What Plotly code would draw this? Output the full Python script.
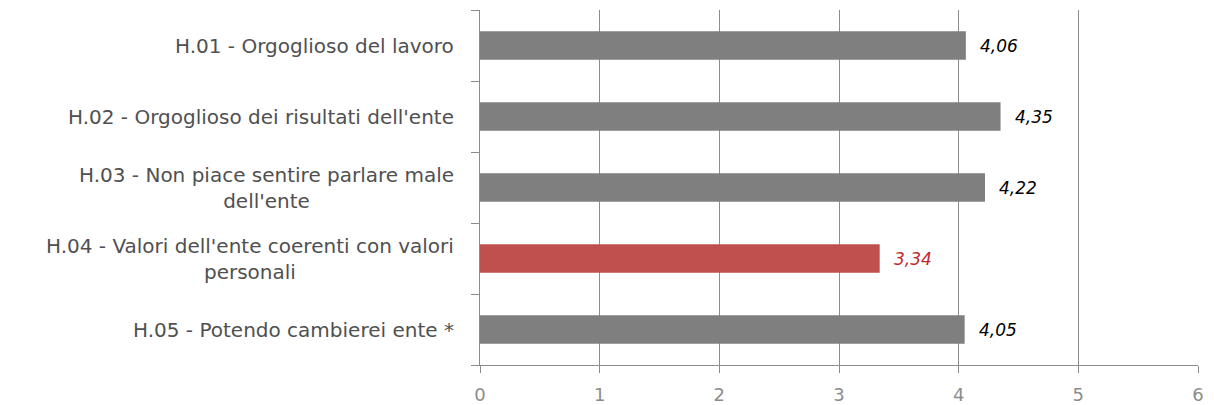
import plotly.graph_objects as go

# Survey items (top to bottom) and their mean scores
categories = [
    "H.01 - Orgoglioso del lavoro",
    "H.02 - Orgoglioso dei risultati dell'ente",
    "H.03 - Non piace sentire parlare male<br>dell'ente",
    "H.04 - Valori dell'ente coerenti con valori<br>personali",
    "H.05 - Potendo cambierei ente *",
]
values = [4.06, 4.35, 4.22, 3.34, 4.05]
value_labels = ["4,06", "4,35", "4,22", "3,34", "4,05"]
highlight = [False, False, False, True, False]
x_ticks = [0, 1, 2, 3, 4, 5, 6]

GRAY_BAR = "#7F7F7F"
RED_BAR = "#C0504D"
RED_TEXT = "#C0282D"
GRID = "#8C8C8C"
FONT = "DejaVu Sans"

ids = [f"c{i}" for i in range(len(categories))]
bar_colors = [RED_BAR if h else GRAY_BAR for h in highlight]

fig = go.Figure(
    go.Bar(
        x=values,
        y=ids,
        orientation="h",
        marker=dict(color=bar_colors, line=dict(width=0)),
        width=0.4,
        hoverinfo="skip",
    )
)

annotations = []
for cid, v, lab, h in zip(ids, values, value_labels, highlight):
    annotations.append(dict(
        x=v, y=cid, xref="x", yref="y", text=f"<i>{lab}</i>",
        showarrow=False, xanchor="left", xshift=12,
        font=dict(family=FONT, size=17, color=RED_TEXT if h else "#000000"),
    ))
for cid, name in zip(ids, categories):
    annotations.append(dict(
        x=0, y=cid, xref="paper", yref="y", text=name,
        showarrow=False, xanchor="right", xshift=-24, align="center",
        font=dict(family=FONT, size=20, color="#505050"),
    ))

fig.update_layout(
    width=1214, height=405,
    margin=dict(l=480, r=16, t=10, b=40),
    paper_bgcolor="white", plot_bgcolor="white",
    showlegend=False,
    annotations=annotations,
    xaxis=dict(
        range=[0, 6], tickvals=x_ticks, ticktext=[str(t) for t in x_ticks],
        showgrid=True, gridcolor=GRID, gridwidth=1.3,
        zeroline=False, showline=True, linecolor=GRID, linewidth=1.3,
        ticks="outside", ticklen=7, tickcolor=GRID, tickwidth=1.3,
        tickfont=dict(family=FONT, size=18, color="#8C8C8C"),
        ticklabelstandoff=6, automargin=False,
    ),
    yaxis=dict(
        type="category", categoryorder="array", categoryarray=ids[::-1],
        range=[-0.5, len(ids) - 0.5],
        showticklabels=False, showgrid=False, zeroline=False,
        showline=True, linecolor=GRID, linewidth=1.3,
        ticks="outside", ticklen=8, tickcolor=GRID, tickwidth=1.3,
        tickson="boundaries", automargin=False,
    ),
)

fig.write_html("out.html")
